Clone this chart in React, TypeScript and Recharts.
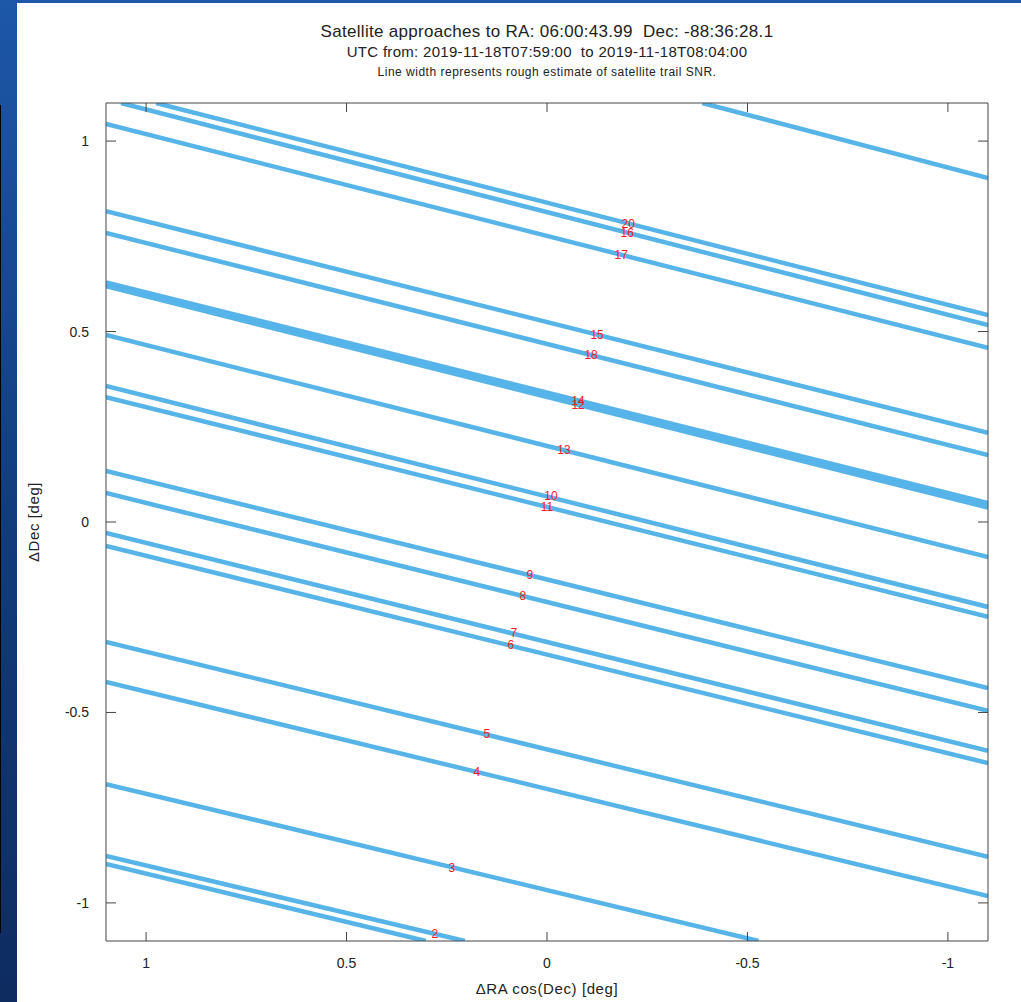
import { ComposedChart, Line, Scatter, XAxis, YAxis } from 'recharts'

// trail end points (deg); clipped at the plot frame
const trailNames = ['16', '20', '17', '19', '15', '18', '14', '12', '12b', '13', '10', '11', '9', '8', '7', '6', '5', '4', '3', '2', '1']
const raStart = [1.0625, 0.975, 1.1, -0.3875, 1.1, 1.1, 1.1, 1.1, 1.1, 1.1, 1.1, 1.1, 1.1, 1.1, 1.1, 1.1, 1.1, 1.1, 1.1, 1.1, 1.1]
const decStart = [1.1, 1.1, 1.045, 1.1, 0.816, 0.759, 0.629, 0.624, 0.619, 0.491, 0.357, 0.328, 0.134, 0.076, -0.029, -0.063, -0.315, -0.42, -0.688, -0.877, -0.898]
const raEnd = [-1.1, -1.1, -1.1, -1.1, -1.1, -1.1, -1.1, -1.1, -1.1, -1.1, -1.1, -1.1, -1.1, -1.1, -1.1, -1.1, -1.1, -1.1, -0.5275, 0.205, 0.3025]
const decEnd = [0.517, 0.543, 0.457, 0.903, 0.234, 0.176, 0.05, 0.044, 0.038, -0.092, -0.223, -0.249, -0.436, -0.496, -0.601, -0.633, -0.879, -0.982, -1.1, -1.1, -1.1]

// satellite numbers printed next to the trails
const labelText = ['20', '16', '17', '15', '18', '14', '12', '13', '10', '11', '9', '8', '7', '6', '5', '4', '3', '2']
const labelRa = [-0.2025, -0.2, -0.185, -0.125, -0.11, -0.0775, -0.0775, -0.0425, -0.01, 0, 0.0425, 0.06, 0.0825, 0.09, 0.15, 0.175, 0.2375, 0.28]
const labelDec = [0.782, 0.759, 0.701, 0.491, 0.438, 0.318, 0.307, 0.189, 0.068, 0.039, -0.139, -0.194, -0.291, -0.323, -0.556, -0.656, -0.908, -1.081]

const ticks = [-1, -0.5, 0, 0.5, 1]

const W = 1021
const H = 1002
const PLOT_LEFT = 106
const PLOT_RIGHT = 988
const PLOT_TOP = 103
const PLOT_BOTTOM = 941
const FRAME = '#444'
const FONT = '"Liberation Sans", Arial, sans-serif'

const trails = trailNames.map((name, i) => ({
  name,
  points: [
    { ra: raStart[i], dec: decStart[i] },
    { ra: raEnd[i], dec: decEnd[i] },
  ],
}))

const labels = labelText.map((text, i) => ({ text, ra: labelRa[i], dec: labelDec[i] }))

function BottomTick({ x, payload }: any) {
  return (
    <g>
      <line x1={x} x2={x} y1={PLOT_BOTTOM} y2={PLOT_BOTTOM - 9} stroke={FRAME} />
      <text x={x} y={PLOT_BOTTOM + 27} textAnchor="middle" fontSize={14} fill="#222" fontFamily={FONT}>
        {String(payload.value)}
      </text>
    </g>
  )
}

function TopTick({ x }: any) {
  return <line x1={x} x2={x} y1={PLOT_TOP} y2={PLOT_TOP + 9} stroke={FRAME} />
}

function LeftTick({ y, payload }: any) {
  return (
    <g>
      <line x1={PLOT_LEFT} x2={PLOT_LEFT + 10} y1={y} y2={y} stroke={FRAME} />
      <text x={PLOT_LEFT - 17} y={y + 5} textAnchor="end" fontSize={14} fill="#222" fontFamily={FONT}>
        {String(payload.value)}
      </text>
    </g>
  )
}

function RightTick({ y }: any) {
  return <line x1={PLOT_RIGHT} x2={PLOT_RIGHT - 10} y1={y} y2={y} stroke={FRAME} />
}

function NumberLabel({ cx, cy, payload }: any) {
  return (
    <text x={cx} y={cy + 4} textAnchor="middle" fontSize={12} fill="#f41c24" fontFamily={FONT}>
      {payload.text}
    </text>
  )
}

export default function App() {
  return (
    <div
      style={{
        position: 'absolute',
        left: 0,
        top: 0,
        width: W,
        height: H,
        background: 'linear-gradient(180deg, #1d57a8 0%, #123a7a 55%, #0e2c60 100%)',
        overflow: 'hidden',
        fontFamily: FONT,
      }}
    >
      <div style={{ position: 'absolute', left: 0, top: 105, width: 1, height: 828, background: '#000' }} />
      <div style={{ position: 'absolute', left: 17, top: 3, width: W - 17, height: H - 3, background: '#fff' }} />

      <div style={{ position: 'absolute', left: 0, width: 1094, top: 21, textAlign: 'center', color: '#222', whiteSpace: 'pre' }}>
        <div style={{ fontSize: 17, lineHeight: '21px', letterSpacing: 0.3 }}>Satellite approaches to RA: 06:00:43.99  Dec: -88:36:28.1</div>
        <div style={{ fontSize: 15, lineHeight: '20px', letterSpacing: 0.3 }}>UTC from: 2019-11-18T07:59:00  to 2019-11-18T08:04:00</div>
        <div style={{ fontSize: 12, lineHeight: '20px', letterSpacing: 0.5 }}>Line width represents rough estimate of satellite trail SNR.</div>
      </div>

      <div style={{ position: 'absolute', left: 0, width: 1094, top: 980, textAlign: 'center', fontSize: 15, letterSpacing: 0.6, color: '#222' }}>
        ΔRA cos(Dec) [deg]
      </div>
      <div
        style={{
          position: 'absolute',
          left: 33,
          top: 522,
          transform: 'translate(-50%, -50%) rotate(-90deg)',
          fontSize: 15,
          letterSpacing: 0.6,
          color: '#222',
          whiteSpace: 'nowrap',
        }}
      >
        ΔDec [deg]
      </div>

      <div style={{ position: 'absolute', left: 0, top: 0 }}>
        <ComposedChart width={W} height={H} margin={{ top: PLOT_TOP - 1, right: W - PLOT_RIGHT - 1, bottom: 0, left: 0 }}>
          <XAxis
            xAxisId={0}
            dataKey="ra"
            type="number"
            reversed
            domain={[-1.1, 1.1]}
            allowDataOverflow
            ticks={ticks}
            height={H - PLOT_BOTTOM}
            tick={<BottomTick />}
            tickLine={false}
            axisLine={{ stroke: FRAME }}
          />
          <XAxis
            xAxisId="top"
            dataKey="ra"
            orientation="top"
            type="number"
            reversed
            domain={[-1.1, 1.1]}
            allowDataOverflow
            ticks={ticks}
            height={1}
            tick={<TopTick />}
            tickLine={false}
            axisLine={{ stroke: FRAME }}
          />
          <YAxis
            yAxisId={0}
            type="number"
            domain={[-1.1, 1.1]}
            allowDataOverflow
            ticks={ticks}
            width={PLOT_LEFT}
            tick={<LeftTick />}
            tickLine={false}
            axisLine={{ stroke: FRAME }}
          />
          <YAxis
            yAxisId="right"
            orientation="right"
            type="number"
            domain={[-1.1, 1.1]}
            allowDataOverflow
            ticks={ticks}
            width={1}
            tick={<RightTick />}
            tickLine={false}
            axisLine={{ stroke: FRAME }}
          />
          {trails.map((t) => (
            <Line
              key={t.name}
              data={t.points}
              dataKey="dec"
              type="linear"
              stroke="#56b4e9"
              strokeWidth={4.5}
              dot={false}
              activeDot={false}
              isAnimationActive={false}
            />
          ))}
          <Scatter
            xAxisId="top"
            yAxisId="right"
            data={labels}
            dataKey="dec"
            shape={<NumberLabel />}
            isAnimationActive={false}
          />
        </ComposedChart>
      </div>
    </div>
  )
}
